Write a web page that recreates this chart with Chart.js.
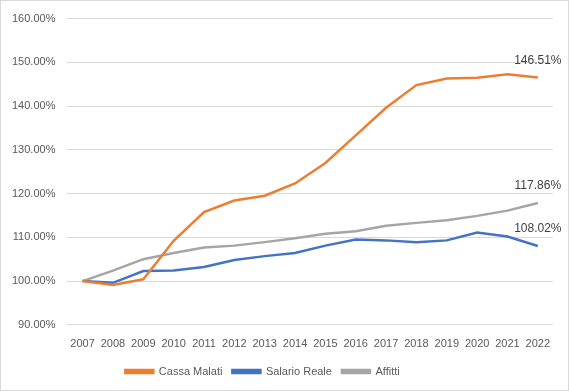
<!DOCTYPE html>
<html>
<head>
<meta charset="utf-8">
<script src="https://cdn.jsdelivr.net/npm/chart.js@4"></script>
<style>
  body { margin: 0; background: #fff; }
  #wrap { width: 569px; height: 391px; position: relative; }
</style>
</head>
<body>
<div id="wrap"><canvas id="chart"></canvas></div>
<script>
// Data
const years = ['2007', '2008', '2009', '2010', '2011', '2012', '2013', '2014',
               '2015', '2016', '2017', '2018', '2019', '2020', '2021', '2022'];
const cassaMalati = [100, 99.1, 100.4, 109.2, 115.75, 118.4, 119.5, 122.3,
                     127.0, 133.3, 139.6, 144.8, 146.3, 146.5, 147.3, 146.51];
const salarioReale = [100, 99.6, 102.3, 102.4, 103.2, 104.8, 105.7, 106.4,
                      108.1, 109.5, 109.3, 108.9, 109.3, 111.1, 110.2, 108.02];
const affitti = [100, 102.4, 105.0, 106.4, 107.65, 108.1, 108.9, 109.8,
                 110.8, 111.4, 112.65, 113.3, 113.9, 114.9, 116.1, 117.86];

const textColor = '#595959';
const gridColor = '#d9d9d9';
const fontFamily = '"Liberation Sans", Arial, sans-serif';

// white background + thin frame like the Excel chart area
const frame = {
    id: 'frame',
    beforeDraw(chart) {
        const ctx = chart.ctx;
        ctx.save();
        ctx.fillStyle = '#fff';
        ctx.fillRect(0, 0, chart.width, chart.height);
        ctx.strokeStyle = gridColor;
        ctx.lineWidth = 1;
        ctx.strokeRect(0.5, 0.5, chart.width - 1, chart.height - 1);
        ctx.restore();
    },
    // Excel puts the legend a bit left of centre
    afterLayout(chart) {
        chart.legend.left -= 14;
        chart.legend.right -= 14;
    }
};

// value label on the last point of each line
const lastLabel = {
    id: 'lastLabel',
    afterDatasetsDraw(chart) {
        const ctx = chart.ctx;
        ctx.save();
        ctx.font = '12px ' + fontFamily;
        ctx.fillStyle = '#404040';
        ctx.textAlign = 'center';
        ctx.textBaseline = 'middle';
        chart.data.datasets.forEach((ds, i) => {
            const meta = chart.getDatasetMeta(i);
            const pt = meta.data[meta.data.length - 1];
            const v = ds.data[ds.data.length - 1];
            ctx.fillText(v.toFixed(2) + '%', pt.x, pt.y - 17);
        });
        ctx.restore();
    }
};

Chart.defaults.font.family = fontFamily;
Chart.defaults.font.size = 11;
Chart.defaults.color = textColor;

new Chart(document.getElementById('chart').getContext('2d'), {
    type: 'line',
    data: {
        labels: years,
        datasets: [{
            label: 'Cassa Malati',
            data: cassaMalati,
            borderColor: '#ED7D31',
            backgroundColor: '#ED7D31'
        }, {
            label: 'Salario Reale',
            data: salarioReale,
            borderColor: '#4472C4',
            backgroundColor: '#4472C4'
        }, {
            label: 'Affitti',
            data: affitti,
            borderColor: '#A5A5A5',
            backgroundColor: '#A5A5A5'
        }]
    },
    options: {
        responsive: true,
        maintainAspectRatio: false,
        animation: false,
        elements: {
            line: { borderWidth: 2.5, tension: 0 },
            point: { radius: 0 }
        },
        layout: { padding: { left: 0, right: 16, top: 7, bottom: 4 } },
        scales: {
            x: {
                offset: true,
                grid: { display: false },
                border: { display: false },
                ticks: { padding: 5, maxRotation: 0, autoSkip: false }
            },
            y: {
                min: 90,
                max: 160,
                ticks: {
                    stepSize: 10,
                    padding: 12,
                    callback: v => v.toFixed(2) + '%'
                },
                grid: { color: gridColor, drawTicks: false },
                border: { display: false }
            }
        },
        plugins: {
            legend: {
                position: 'bottom',
                labels: {
                    boxWidth: 28,
                    boxHeight: 3,
                    padding: 10
                }
            },
            tooltip: { enabled: false }
        }
    },
    plugins: [frame, lastLabel]
});
</script>
</body>
</html>
